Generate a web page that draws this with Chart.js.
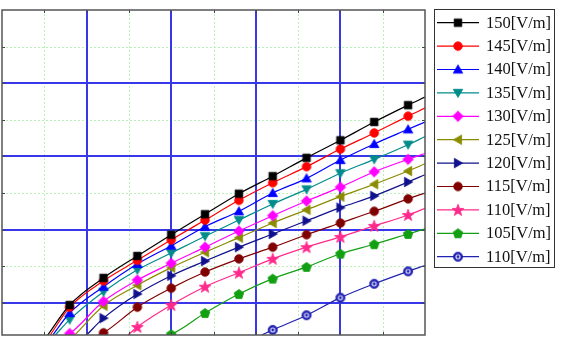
<!DOCTYPE html>
<html><head><meta charset="utf-8">
<script src="https://cdn.jsdelivr.net/npm/chart.js@4/dist/chart.umd.min.js"></script>
<style>html,body{margin:0;padding:0;background:#fff}#wrap{width:564px;height:340px;position:relative}</style>
</head><body><div id="wrap"><canvas id="c" width="564" height="340"></canvas></div>
<script>
// ---- data ----
const seriesLabels = ['150[V/m]','145[V/m]','140[V/m]','135[V/m]','130[V/m]','125[V/m]','120[V/m]','115[V/m]','110[V/m]','105[V/m]','110[V/m]'];
const xValues = [0.8, 1.2, 1.6, 2.0, 2.4, 2.8, 3.2, 3.6, 4.0, 4.4, 4.8];
const s150  = [0.97, 1.34, 1.64, 1.93, 2.21, 2.49, 2.73, 2.98, 3.22, 3.47, 3.70];
const s145  = [0.94, 1.30, 1.58, 1.86, 2.13, 2.40, 2.64, 2.86, 3.10, 3.32, 3.55];
const s140  = [0.86, 1.22, 1.53, 1.78, 2.04, 2.25, 2.50, 2.70, 2.95, 3.17, 3.37];
const s135  = [0.77, 1.15, 1.45, 1.68, 1.91, 2.13, 2.35, 2.55, 2.77, 2.96, 3.16];
const s130  = [0.58, 1.02, 1.31, 1.54, 1.76, 1.98, 2.19, 2.39, 2.58, 2.79, 2.96];
const s125  = [null, 0.96, 1.24, 1.48, 1.69, 1.89, 2.09, 2.27, 2.45, 2.62, 2.80];
const s120  = [null, 0.79, 1.12, 1.37, 1.57, 1.76, 1.94, 2.12, 2.30, 2.46, 2.65];
const s115  = [null, 0.59, 0.94, 1.20, 1.42, 1.60, 1.76, 1.93, 2.09, 2.25, 2.42];
const s110  = [null, null, 0.67, 0.97, 1.22, 1.41, 1.60, 1.76, 1.90, 2.05, 2.20];
const s105  = [null, null, null, 0.57, 0.86, 1.12, 1.33, 1.49, 1.67, 1.80, 1.94];
const s110b = [null, null, null, null, null, null, 0.63, 0.83, 1.07, 1.26, 1.43];
// where each curve leaves the bottom of the plot, and its height at the right edge
const lineStartX = [0.54, 0.57, 0.60, 0.63, 0.76, 0.86, 1.00, 1.14, 1.49, 1.95, 3.07];
const lineEndY   = [3.81, 3.66, 3.47, 3.27, 3.04, 2.90, 2.75, 2.50, 2.29, 2.01, 1.51];
const xMajorTicks = [1, 2, 3, 4];
const xMinorTicks = [0.5, 1.5, 2.5, 3.5, 4.5];
const yMajorTicks = [1, 2, 3, 4];
const yMinorTicks = [1.5, 2.5, 3.5, 4.5];
const X_MIN = 0, X_MAX = 5, Y_MIN = 0.56, Y_MAX = 5;

const seriesValues = [s150, s145, s140, s135, s130, s125, s120, s115, s110, s105, s110b];
const colors = ['#000000','#ff0000','#0000ff','#008b8b','#ff00ff','#8b8b00','#10108c','#800000','#ff2a8c','#12a012','#2222b0'];
const shapes = ['square','circle','triUp','triDown','diamond','triLeft','triRight','circle','star','pentagon','ball'];

function polyPath(g, cx, cy, n, r, startDeg, r2) {
  const pts = r2 ? n * 2 : n;
  for (let k = 0; k < pts; k++) {
    const a = (startDeg + k * 360 / pts) * Math.PI / 180;
    const rr = r2 ? (k % 2 ? r2 : r) : r;
    const px = cx + rr * Math.cos(a), py = cy + rr * Math.sin(a);
    if (k === 0) g.moveTo(px, py); else g.lineTo(px, py);
  }
  g.closePath();
}
function makeMarker(shape, color) {
  const c = document.createElement('canvas');
  c.width = 16; c.height = 16;
  const g = c.getContext('2d');
  const cx = 8, cy = 8;
  g.fillStyle = color; g.strokeStyle = color; g.lineWidth = 0.8;
  g.beginPath();
  switch (shape) {
    case 'square': g.rect(cx - 3.8, cy - 3.8, 7.6, 7.6); break;
    case 'circle': g.arc(cx, cy, 4.3, 0, Math.PI * 2); break;
    case 'triUp': polyPath(g, cx, cy + 0.9, 3, 5.5, -90); break;
    case 'triDown': polyPath(g, cx, cy - 0.9, 3, 5.5, 90); break;
    case 'triLeft': polyPath(g, cx + 0.9, cy, 3, 5.5, 180); break;
    case 'triRight': polyPath(g, cx - 0.9, cy, 3, 5.5, 0); break;
    case 'diamond': polyPath(g, cx, cy, 4, 5.3, -90); break;
    case 'pentagon': polyPath(g, cx, cy + 0.4, 5, 5, -90); break;
    case 'star': polyPath(g, cx, cy + 0.5, 5, 6.2, -90, 2.6); break;
    case 'ball': g.arc(cx, cy, 4.6, 0, Math.PI * 2); break;
  }
  g.fill(); g.stroke();
  if (shape === 'ball') {
    g.beginPath(); g.fillStyle = '#dcdcff'; g.arc(cx, cy, 2.6, 0, Math.PI * 2); g.fill();
    g.beginPath(); g.fillStyle = color; g.arc(cx, cy, 1.4, 0, Math.PI * 2); g.fill();
  }
  return c;
}
const markers = shapes.map((s, i) => makeMarker(s, colors[i]));

const datasets = seriesLabels.map((label, i) => {
  const pts = [{x: lineStartX[i], y: Y_MIN}];
  const radii = [0];
  xValues.forEach((x, j) => {
    const v = seriesValues[i][j];
    if (v !== null) { pts.push({x: x, y: v}); radii.push(4); }
  });
  pts.push({x: X_MAX, y: lineEndY[i]}); radii.push(0);
  return {
    label: label, data: pts,
    borderColor: colors[i], backgroundColor: colors[i],
    borderWidth: 1.2, pointStyle: markers[i], pointRadius: radii,
    pointHoverRadius: radii, cubicInterpolationMode: 'monotone', fill: false
  };
});

const matlabPlugin = {
  id: 'matlab',
  beforeDatasetsDraw(chart) {
    const {ctx, chartArea: a, scales: {x, y}} = chart;
    ctx.save();
    ctx.lineWidth = 1; ctx.strokeStyle = '#b6f2b6'; ctx.setLineDash([2, 2]);
    xMinorTicks.forEach(v => { const p = Math.round(x.getPixelForValue(v)) + 0.5; ctx.beginPath(); ctx.moveTo(p, a.top); ctx.lineTo(p, a.bottom); ctx.stroke(); });
    yMinorTicks.forEach(v => { const p = Math.round(y.getPixelForValue(v)) + 0.5; ctx.beginPath(); ctx.moveTo(a.left, p); ctx.lineTo(a.right, p); ctx.stroke(); });
    ctx.setLineDash([]); ctx.lineWidth = 2; ctx.strokeStyle = '#3838ea';
    xMajorTicks.forEach(v => { const p = Math.round(x.getPixelForValue(v)); ctx.beginPath(); ctx.moveTo(p, a.top); ctx.lineTo(p, a.bottom); ctx.stroke(); });
    yMajorTicks.forEach(v => { const p = Math.round(y.getPixelForValue(v)); ctx.beginPath(); ctx.moveTo(a.left, p); ctx.lineTo(a.right, p); ctx.stroke(); });
    ctx.restore();
  },
  afterDatasetsDraw(chart) {
    const {ctx, chartArea: a, scales: {x, y}} = chart;
    ctx.save();
    ctx.strokeStyle = '#444'; ctx.lineWidth = 1;
    const tl = 3;
    xMajorTicks.concat(xMinorTicks).forEach(v => {
      const p = Math.round(x.getPixelForValue(v)) + 0.5;
      ctx.beginPath(); ctx.moveTo(p, a.bottom); ctx.lineTo(p, a.bottom - tl); ctx.moveTo(p, a.top); ctx.lineTo(p, a.top + tl); ctx.stroke();
    });
    yMajorTicks.concat(yMinorTicks).forEach(v => {
      const p = Math.round(y.getPixelForValue(v)) + 0.5;
      ctx.beginPath(); ctx.moveTo(a.left, p); ctx.lineTo(a.left + tl, p); ctx.moveTo(a.right, p); ctx.lineTo(a.right - tl, p); ctx.stroke();
    });
    ctx.strokeStyle = '#555'; ctx.lineWidth = 1.5;
    ctx.strokeRect(a.left, a.top, a.right - a.left, a.bottom - a.top);
    ctx.restore();
  },
  afterDraw(chart) {
    const ctx = chart.ctx;
    const bx = 434, by = 9, bw = 120, bh = 258;
    ctx.save();
    ctx.fillStyle = '#fff'; ctx.fillRect(bx, by, bw, bh);
    ctx.strokeStyle = '#333'; ctx.lineWidth = 1;
    ctx.strokeRect(bx + 0.5, by + 0.5, bw, bh);
    ctx.font = '16.5px "Liberation Serif", "Times New Roman", serif';
    ctx.textBaseline = 'middle'; ctx.textAlign = 'left';
    chart.data.datasets.forEach((ds, i) => {
      const cy = 22.7 + i * 23.4;
      ctx.strokeStyle = ds.borderColor; ctx.lineWidth = 1.2;
      ctx.beginPath(); ctx.moveTo(437, cy); ctx.lineTo(479, cy); ctx.stroke();
      const m = ds.pointStyle;
      ctx.drawImage(m, 458 - m.width / 2, cy - m.height / 2);
      ctx.fillStyle = '#111';
      ctx.fillText(ds.label, 486, cy + 0.5);
    });
    ctx.restore();
  }
};

new Chart(document.getElementById('c'), {
  type: 'line',
  data: {datasets: datasets},
  options: {
    responsive: false, animation: false, devicePixelRatio: 1,
    layout: {padding: {left: 2, top: 10, right: 139, bottom: 5}},
    plugins: {legend: {display: false}, tooltip: {enabled: false}},
    scales: {
      x: {type: 'linear', min: X_MIN, max: X_MAX, display: false},
      y: {type: 'linear', min: Y_MIN, max: Y_MAX, display: false}
    }
  },
  plugins: [matlabPlugin]
});
</script>
</body></html>
